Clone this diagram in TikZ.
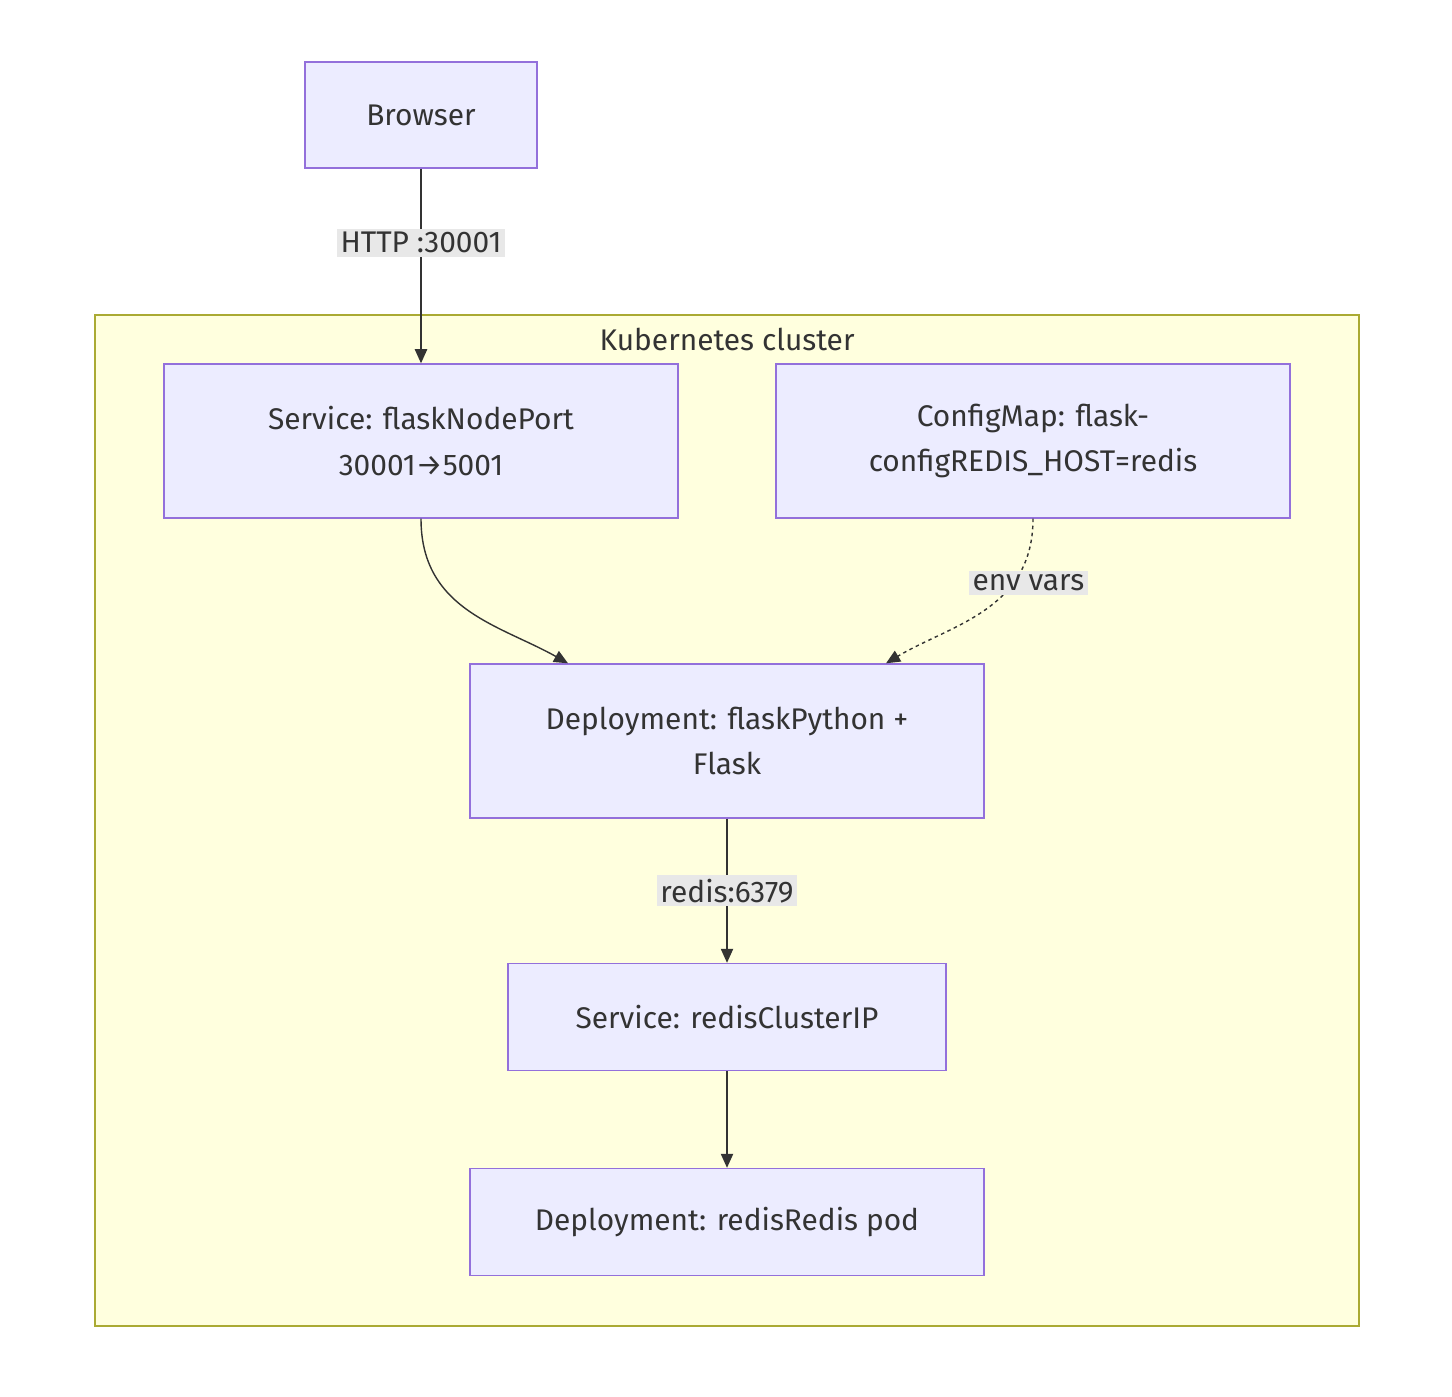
\documentclass[tikz,border=0pt]{standalone}
\usepackage{fontspec}
\setmainfont{Fira Sans}
\usetikzlibrary{positioning}
\usetikzlibrary{arrows.meta}
\definecolor{boxfill}{HTML}{ECECFF}
\definecolor{boxline}{HTML}{9370DB}
\definecolor{clusterfill}{HTML}{FFFFDE}
\definecolor{clusterline}{HTML}{AAAA33}
\definecolor{labelfill}{HTML}{E8E8E8}
\definecolor{inkline}{HTML}{333333}
\begin{document}
\begin{tikzpicture}[x=0.02cm, y=-0.02cm,
  box/.style={draw=boxline, fill=boxfill, line width=0.8pt, align=center, font=\fontsize{17}{26}\selectfont, text=inkline},
  edgelabel/.style={fill=labelfill, inner sep=2pt, font=\fontsize{17}{20}\selectfont, text=inkline},
  link/.style={draw=inkline, line width=0.8pt, -{Triangle[length=8pt,width=7pt]}}]
            \useasboundingbox (0,0) rectangle (1452,1396);
            \fill[white] (0,0) rectangle (1452,1396);
            \draw[clusterline, fill=clusterfill, line width=0.8pt] (95,315) rectangle (1359,1326);
            \node[font=\fontsize{17}{20}\selectfont, text=inkline] (cluster) at (727,339) {Kubernetes cluster};
            \node[box, minimum width=232*0.02cm, minimum height=106*0.02cm] (browser) at (421,115) {Browser};
            \node[box, minimum width=514*0.02cm, minimum height=154*0.02cm] (flasksvc) at (421,441) {Service: flaskNodePort\\30001→5001};
            \node[box, minimum width=514*0.02cm, minimum height=154*0.02cm] (configmap) at (1033,441) {ConfigMap: flask-\\configREDIS\_HOST=redis};
            \node[box, minimum width=514*0.02cm, minimum height=154*0.02cm] (flaskdep) at (727,741) {Deployment: flaskPython +\\Flask};
            \node[box, minimum width=438*0.02cm, minimum height=107*0.02cm] (redissvc) at (727,1017) {Service: redisClusterIP};
            \node[box, minimum width=514*0.02cm, minimum height=107*0.02cm] (redisdep) at (727,1222) {Deployment: redisRedis pod};

            \draw[link] (browser) -- node[pos=0.38, edgelabel] {HTTP :30001} (flasksvc);
            \draw[link] (flasksvc.south) .. controls (421,610) and (500,625) .. (flaskdep.north -| 568,0);
            \draw[link, dash pattern=on 2pt off 2pt] (configmap.south) .. controls (1033,610) and (950,625) .. node[pos=0.3, xshift=3mm, edgelabel, solid] {env vars} (flaskdep.north -| 886,0);
            \draw[link] (flaskdep) -- node[edgelabel] {redis:6379} (redissvc);
            \draw[link] (redissvc) -- (redisdep);
        \end{tikzpicture}
\end{document}
